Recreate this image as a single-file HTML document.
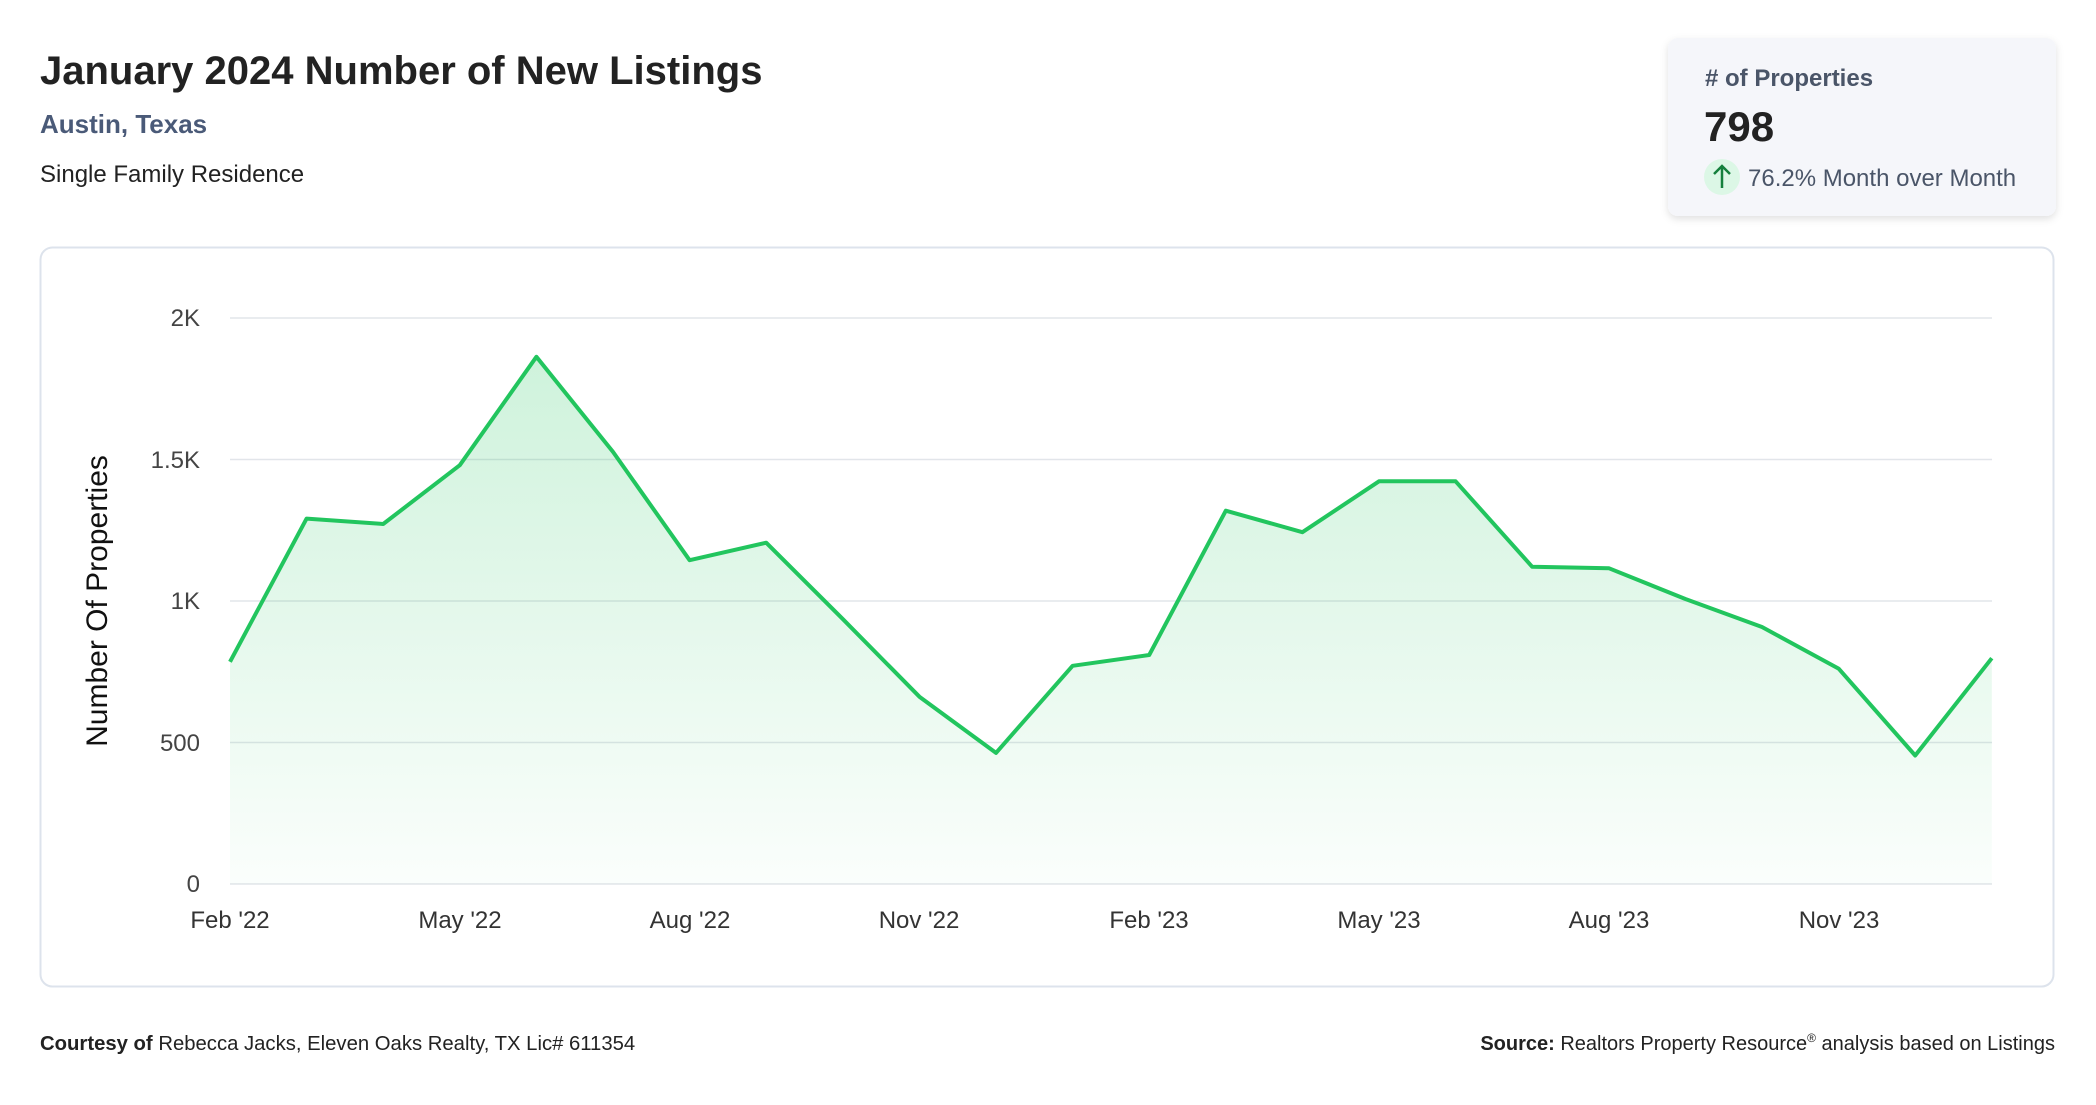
<!DOCTYPE html>
<html><head><meta charset="utf-8"><style>
body{margin:0;width:2096px;height:1100px;background:#fff;overflow:hidden;font-family:"Liberation Sans",sans-serif}
</style></head><body>
<svg width="2096" height="1100" xmlns="http://www.w3.org/2000/svg" font-family="Liberation Sans, sans-serif">
<defs>
<linearGradient id="g" x1="0" y1="0" x2="0" y2="1">
<stop offset="0" stop-color="#22c55e" stop-opacity="0.22"/>
<stop offset="1" stop-color="#22c55e" stop-opacity="0.02"/>
</linearGradient>
<filter id="sh" x="-10%" y="-10%" width="120%" height="130%"><feDropShadow dx="0" dy="3" stdDeviation="4" flood-color="#000" flood-opacity="0.12"/></filter>
</defs>
<text x="40" y="84" font-size="40" font-weight="bold" fill="#222">January 2024 Number of New Listings</text>
<text x="40" y="133" font-size="26" font-weight="bold" fill="#4a5a78">Austin, Texas</text>
<text x="40" y="182" font-size="24" fill="#222">Single Family Residence</text>
<rect x="1668" y="38" width="388" height="178" rx="10" fill="#f5f6fa" filter="url(#sh)"/>
<text x="1705" y="86" font-size="24" font-weight="bold" fill="#4a5568"># of Properties</text>
<text x="1704" y="141" font-size="42" font-weight="bold" fill="#222">798</text>
<circle cx="1722" cy="177" r="18" fill="#dcf7e6"/>
<path d="M1722 188 V166 M1714 174 L1722 166 L1730 174" stroke="#15803d" stroke-width="2.5" fill="none"/>
<text x="1748" y="186" font-size="24" fill="#4a5568">76.2% Month over Month</text>
<rect x="40.5" y="247.5" width="2013" height="739" rx="12" fill="#fff" stroke="#dde3ec" stroke-width="2"/>
<g stroke="#e2e5ea" stroke-width="1.5">
<line x1="230" y1="318" x2="1992" y2="318"/><line x1="230" y1="459.5" x2="1992" y2="459.5"/>
<line x1="230" y1="601" x2="1992" y2="601"/><line x1="230" y1="742.5" x2="1992" y2="742.5"/>
<line x1="230" y1="884" x2="1992" y2="884"/></g>
<g font-size="24" fill="#444" text-anchor="end">
<text x="200" y="326">2K</text><text x="200" y="468">1.5K</text><text x="200" y="609">1K</text><text x="200" y="751">500</text><text x="200" y="892">0</text></g>
<text transform="translate(107,601) rotate(-90)" font-size="30" fill="#111" text-anchor="middle">Number Of Properties</text>
<g font-size="24" fill="#333" text-anchor="middle">
<text x="230" y="928">Feb '22</text><text x="460" y="928">May '22</text><text x="690" y="928">Aug '22</text><text x="919" y="928">Nov '22</text>
<text x="1149" y="928">Feb '23</text><text x="1379" y="928">May '23</text><text x="1609" y="928">Aug '23</text><text x="1839" y="928">Nov '23</text></g>
<path d="M230,661.8 L306.6,518.6 L383.2,524 L459.8,465.2 L536.4,356.8 L613,451.9 L689.6,560.2 L766.2,542.7 L842.8,619.1 L919.4,696.7 L996,752.9 L1072.6,665.8 L1149.2,655 L1225.8,510.7 L1302.4,532.2 L1379,481.3 L1455.6,481.3 L1532.2,566.8 L1608.8,568.2 L1685.4,599 L1762,627 L1838.6,668.6 L1915.2,755.5 L1991.8,658.2 L1991.8,884 L230,884 Z" fill="url(#g)"/>
<path d="M230,661.8 L306.6,518.6 L383.2,524 L459.8,465.2 L536.4,356.8 L613,451.9 L689.6,560.2 L766.2,542.7 L842.8,619.1 L919.4,696.7 L996,752.9 L1072.6,665.8 L1149.2,655 L1225.8,510.7 L1302.4,532.2 L1379,481.3 L1455.6,481.3 L1532.2,566.8 L1608.8,568.2 L1685.4,599 L1762,627 L1838.6,668.6 L1915.2,755.5 L1991.8,658.2" fill="none" stroke="#22c55e" stroke-width="4" stroke-linejoin="round"/>
<text x="40" y="1050" font-size="20.3" fill="#222"><tspan font-weight="bold">Courtesy of</tspan> Rebecca Jacks, Eleven Oaks Realty, TX Lic# 611354</text>
<text x="2055" y="1050" font-size="20" fill="#222" text-anchor="end"><tspan font-weight="bold">Source:</tspan> Realtors Property Resource<tspan font-size="12" dy="-8">®</tspan><tspan dy="8"> analysis based on Listings</tspan></text>
</svg>
</body></html>
